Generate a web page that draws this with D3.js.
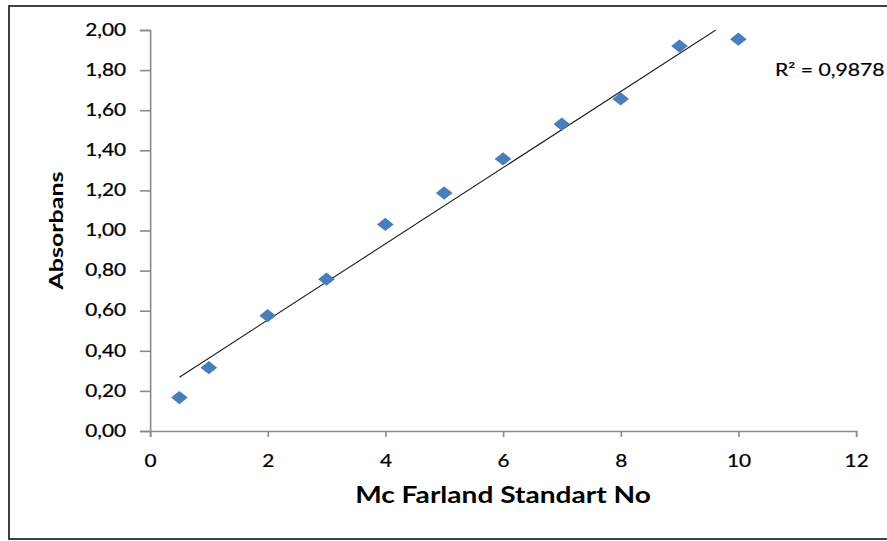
<!DOCTYPE html>
<html>
<head>
<meta charset="utf-8">
<script src="https://cdn.jsdelivr.net/npm/d3@7"></script>
<style>
  html, body { margin: 0; padding: 0; background: #fff; }
  svg { display: block; }
  text { font-family: Lato, "Open Sans", sans-serif; fill: #000; }
</style>
</head>
<body>
<svg id="chart"></svg>
<script>
// McFarland standard number vs absorbance
const standards = [0.5, 1, 2, 3, 4, 5, 6, 7, 8, 9, 10];
const absorbance = [0.167, 0.316, 0.575, 0.757, 1.03, 1.187, 1.357, 1.53, 1.656, 1.92, 1.954];
const xTicks = [0, 2, 4, 6, 8, 10, 12];
const yTicks = [0, 0.2, 0.4, 0.6, 0.8, 1.0, 1.2, 1.4, 1.6, 1.8, 2.0];
const xTitle = 'Mc Farland Standart No';
const yTitle = 'Absorbans';
const r2Label = 'R² = 0,9878';

// the picture is stretched horizontally, so draw in a narrower box and stretch it
const outerW = 887, outerH = 541;
const stretch = 1.26;
const W = outerW / stretch;

const svg = d3.select('#chart')
  .attr('width', outerW)
  .attr('height', outerH)
  .attr('viewBox', `0 0 ${W} ${outerH}`)
  .attr('preserveAspectRatio', 'none');

const margin = { left: 150 / stretch, right: W - 856 / stretch, top: 30, bottom: outerH - 431 };
const width = W - margin.left - margin.right;
const height = outerH - margin.top - margin.bottom;

// chart border
svg.append('rect')
  .attr('x', 9 / stretch)
  .attr('y', 6)
  .attr('width', W)
  .attr('height', 533)
  .attr('fill', 'none')
  .attr('stroke', '#404040')
  .attr('stroke-width', 2)
  .attr('vector-effect', 'non-scaling-stroke');

const g = svg.append('g')
  .attr('transform', 'translate(' + margin.left + ',' + margin.top + ')');

const x = d3.scaleLinear().domain([0, 12]).range([0, width]);
const y = d3.scaleLinear().domain([0, 2]).range([height, 0]);

const comma = d3.formatLocale({ decimal: ',', thousands: '.', grouping: [3], currency: ['', ''] });

const yAxis = g.append('g')
  .call(d3.axisLeft(y).tickValues(yTicks).tickFormat(comma.format('.2f')).tickSize(8).tickPadding(11));
const xAxis = g.append('g')
  .attr('transform', 'translate(0,' + height + ')')
  .call(d3.axisBottom(x).tickValues(xTicks).tickFormat(d3.format('d')).tickSize(6).tickPadding(18));

[xAxis, yAxis].forEach(a => {
  a.selectAll('path, line')
    .attr('stroke', '#8a8a8a')
    .attr('stroke-width', 1.6)
    .attr('vector-effect', 'non-scaling-stroke');
  a.selectAll('text')
    .style('font-family', 'Lato, sans-serif')
    .style('font-size', '16.5px')
    .attr('fill', '#000')
    .attr('stroke', '#000')
    .attr('stroke-width', 0.25);
});

// least squares trendline, clipped to the plot area
const points = standards.map((s, i) => [s, absorbance[i]]);
const mx = d3.mean(standards), my = d3.mean(absorbance);
const slope = d3.sum(points, d => (d[0] - mx) * (d[1] - my)) / d3.sum(points, d => (d[0] - mx) ** 2);
const intercept = my - slope * mx;
const ends = d3.extent(standards);

g.append('clipPath').attr('id', 'plot-clip')
  .append('rect').attr('x', 0).attr('y', 0).attr('width', width).attr('height', height);

g.append('line')
  .attr('clip-path', 'url(#plot-clip)')
  .attr('x1', x(ends[0]))
  .attr('y1', y(intercept + slope * ends[0]))
  .attr('x2', x(ends[1]))
  .attr('y2', y(intercept + slope * ends[1]))
  .attr('stroke', '#1a1a1a')
  .attr('stroke-width', 1.1)
  .attr('vector-effect', 'non-scaling-stroke');

// diamond markers
g.selectAll('.pt')
  .data(points)
  .enter().append('path')
  .attr('class', 'pt')
  .attr('d', d3.symbol().type(d3.symbolSquare).size(88))
  .attr('transform', d => 'translate(' + x(d[0]) + ',' + y(d[1]) + ') rotate(45)')
  .attr('fill', '#4a7ebb');

// axis titles
g.append('text')
  .attr('x', width / 2)
  .attr('y', 503 - margin.top)
  .attr('text-anchor', 'middle')
  .style('font-weight', 'bold')
  .style('font-size', '22.3px')
  .text(xTitle);

svg.append('text')
  .attr('transform', 'translate(' + (63 / stretch) + ',' + (margin.top + height / 2) + ') rotate(-90) scale(1,0.62)')
  .attr('text-anchor', 'middle')
  .style('font-weight', 'bold')
  .style('font-size', '25px')
  .text(yTitle);

svg.append('text')
  .attr('x', 775 / stretch)
  .attr('y', 76.5)
  .style('font-size', '16.8px')
  .attr('stroke', '#000')
  .attr('stroke-width', 0.2)
  .text(r2Label);
</script>
</body>
</html>
